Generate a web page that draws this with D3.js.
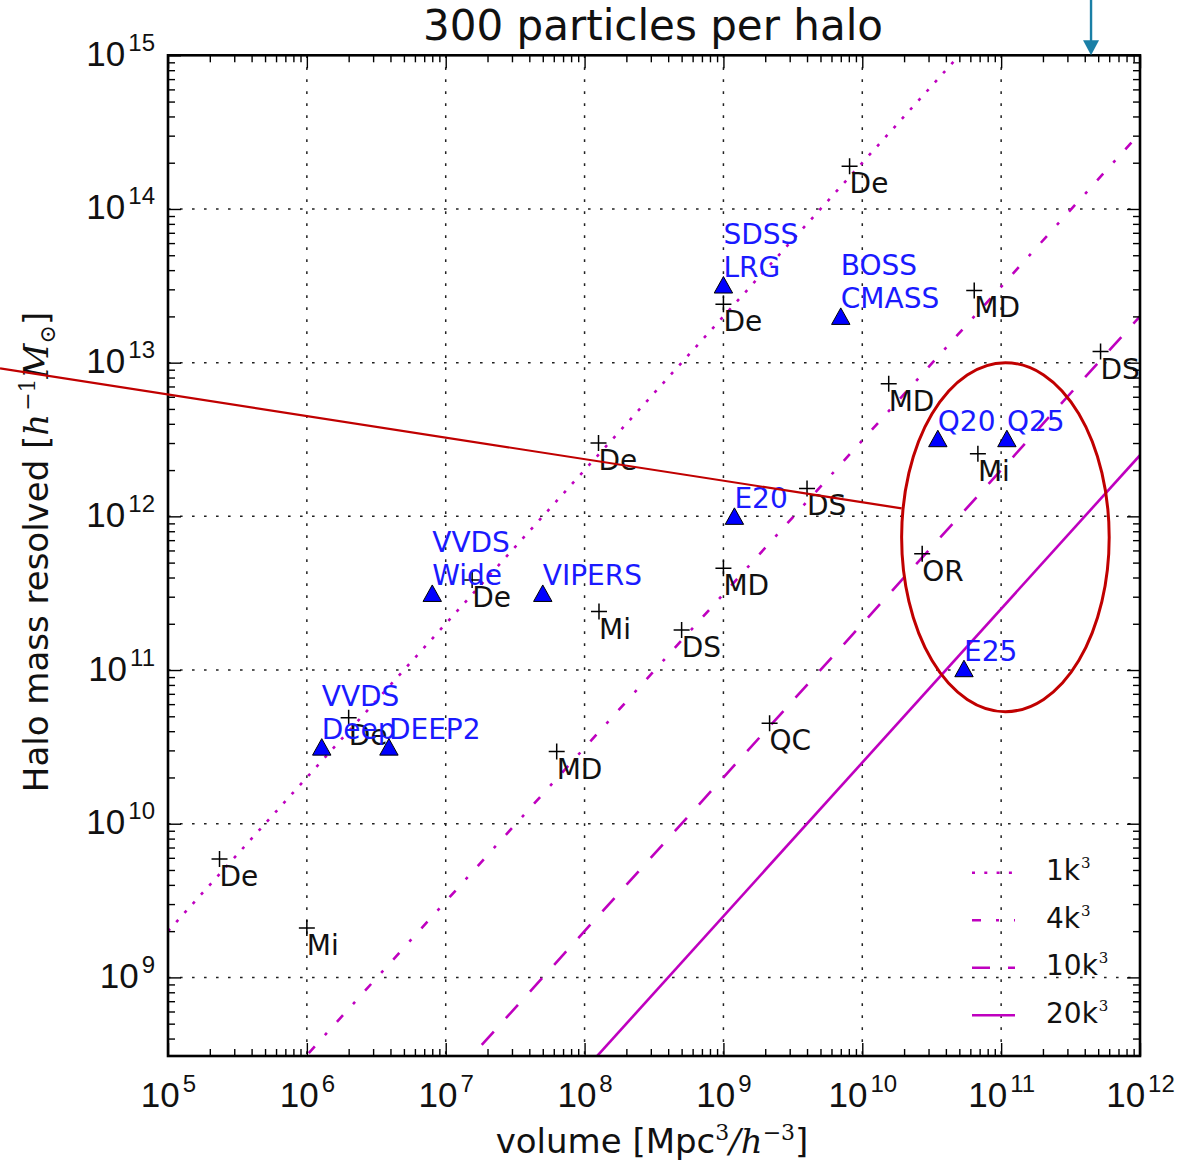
<!DOCTYPE html>
<html>
<head>
<meta charset="utf-8">
<script src="https://cdn.jsdelivr.net/npm/d3@7"></script>
<style>
  body { margin: 0; background: #fff; }
  svg { font-family: "DejaVu Sans", sans-serif; }
</style>
</head>
<body>
<script>
// simulations (black +)
var simVolume = [8.1e9, 1.0e9, 6.4e10, 5.2e11, 1.55e10, 1.26e8, 6.8e10, 4.0e9, 2.7e10, 1.0e9,
                 1.27e8, 5.0e8, 1.55e7, 2.15e9, 6.3e7, 2.0e6, 2.35e5, 1.0e6];
var simMass   = [1.9e14, 2.4e13, 2.95e13, 1.18e13, 7.3e12, 3.0e12, 2.55e12, 1.52e12, 5.7e11, 4.6e11,
                 2.4e11, 1.82e11, 3.85e11, 4.5e10, 2.95e10, 4.9e10, 5.9e9, 2.1e9];
var simLabel  = ["De", "De", "MD", "DS", "MD", "De", "Mi", "DS", "OR", "MD",
                 "Mi", "DS", "De", "QC", "MD", "De", "De", "Mi"];

// surveys (blue triangles)
var surveyVolume = [1.0e9, 7.0e9, 3.5e10, 1.1e11, 1.2e9, 5.4e10, 8.0e6, 5.0e7, 1.28e6, 3.9e6];
var surveyMass   = [3.2e13, 2.0e13, 3.2e12, 3.2e12, 1.0e12, 1.02e11, 3.15e11, 3.15e11, 3.15e10, 3.15e10];
var surveyLabel  = ["SDSS\nLRG", "BOSS\nCMASS", "Q20", "Q25", "E20", "E25", "VVDS\nWide", "VIPERS", "VVDS\nDeep", "DEEP2"];

// resolution limits: [volume, mass] at both ends of the x range
var limitNames = ["1k", "4k", "10k", "20k"];
var limitEnds  = [
  [[1e5, 2.0e9], [1e12, 2.0e16]],
  [[1e5, 3.12e7], [1e12, 3.12e14]],
  [[1e5, 2.0e6], [1e12, 2.0e13]],
  [[1e5, 2.5e5], [1e12, 2.5e12]]
];
var limitDash = ["3,9.3", "9,15,3,15", "18,18", null];

var xTicks = [1e5, 1e6, 1e7, 1e8, 1e9, 1e10, 1e11, 1e12];
var yTicks = [1e9, 1e10, 1e11, 1e12, 1e13, 1e14, 1e15];

// hand-drawn highlight on top of the figure
var ringVolume = [1.92e10, 6.0e11];
var ringMass = [5.36e10, 1.0e13];
var pointerEnds = [[6.17e3, 9.18e12], [1.92e10, 1.127e12]];
var arrowVolume = 4.44e11;

var W = 1192, H = 1167;
var pL = 168, pR = 1140, pT = 55.3, pB = 1056;
var magenta = "#bf00bf";

var svg = d3.select("body").append("svg")
  .attr("width", W).attr("height", H);

var x = d3.scaleLog().domain([1e5, 1e12]).range([pL, pR]);
var y = d3.scaleLog().domain([3.08e8, 1e15]).range([pB, pT]);

function minors(lo, hi) {
  var out = [];
  for (var k = Math.floor(Math.log10(lo)); k <= Math.ceil(Math.log10(hi)); k++) {
    for (var m = 2; m <= 9; m++) {
      var v = m * Math.pow(10, k);
      if (v > lo && v < hi) out.push(v);
    }
  }
  return out;
}

svg.append("defs").append("clipPath").attr("id", "plot")
  .append("rect").attr("x", pL).attr("y", pT)
  .attr("width", pR - pL).attr("height", pB - pT);

// grid
var grid = svg.append("g").attr("stroke", "#222").attr("stroke-width", 1.5)
  .attr("stroke-dasharray", "2.6,9.4");
xTicks.slice(1, -1).forEach(function(t) {
  grid.append("line").attr("x1", x(t)).attr("x2", x(t)).attr("y1", pT).attr("y2", pB);
});
yTicks.slice(0, -1).forEach(function(t) {
  grid.append("line").attr("y1", y(t)).attr("y2", y(t)).attr("x1", pL).attr("x2", pR);
});

// resolution lines
var line = d3.line().x(function(d) { return x(d[0]); }).y(function(d) { return y(d[1]); });
var lines = svg.append("g").attr("clip-path", "url(#plot)");
limitEnds.forEach(function(ends, i) {
  lines.append("path").attr("d", line(ends))
    .attr("fill", "none").attr("stroke", magenta).attr("stroke-width", 2.6)
    .attr("stroke-dasharray", limitDash[i]);
});

// simulations
var sims = svg.append("g");
simVolume.forEach(function(v, i) {
  var px = x(v), py = y(simMass[i]);
  sims.append("path").attr("d", "M" + (px - 8) + "," + py + "H" + (px + 8) + "M" + px + "," + (py - 8) + "V" + (py + 8))
    .attr("stroke", "#000").attr("stroke-width", 1.5);
  sims.append("text").attr("x", px).attr("y", py + 27)
    .attr("font-size", 28).attr("fill", "#111").text(simLabel[i]);
});

// surveys
var surveys = svg.append("g");
surveyVolume.forEach(function(v, i) {
  var px = x(v), py = y(surveyMass[i]);
  surveys.append("path")
    .attr("d", "M" + px + "," + (py - 8.5) + "L" + (px + 9.2) + "," + (py + 8) + "L" + (px - 9.2) + "," + (py + 8) + "Z")
    .attr("fill", "#0000ff").attr("stroke", "#000").attr("stroke-width", 1);
  var parts = surveyLabel[i].split("\n");
  parts.forEach(function(s, j) {
    surveys.append("text").attr("x", px).attr("y", py - 8 - (parts.length - 1 - j) * 33.5)
      .attr("font-size", 28).attr("fill", "#1a1aff").text(s);
  });
});

// axes: ticks point inward on all four sides
function tickLabel(sel) {
  sel.selectAll(".tick text").each(function(d) {
    var t = d3.select(this);
    t.text(null);
    t.append("tspan").text("10");
    t.append("tspan").attr("dy", -15).attr("dx", 3).attr("font-size", 24)
      .text(Math.round(Math.log10(d)));
  });
}

var xMinor = minors(1e5, 1e12), yMinor = minors(3.08e8, 1e15);

var ax = svg.append("g").attr("font-family", "DejaVu Sans");

ax.append("g").attr("transform", "translate(0," + pB + ")")
  .call(d3.axisBottom(x).tickValues(xMinor).tickSize(-7).tickFormat(""));
ax.append("g").attr("transform", "translate(0," + pT + ")")
  .call(d3.axisTop(x).tickValues(xMinor).tickSize(-7).tickFormat(""));
ax.append("g").attr("transform", "translate(" + pL + ",0)")
  .call(d3.axisLeft(y).tickValues(yMinor).tickSize(-7).tickFormat(""));
ax.append("g").attr("transform", "translate(" + pR + ",0)")
  .call(d3.axisRight(y).tickValues(yMinor).tickSize(-7).tickFormat(""));

ax.append("g").attr("transform", "translate(0," + pT + ")")
  .call(d3.axisTop(x).tickValues(xTicks).tickSize(-13).tickFormat(""));
ax.append("g").attr("transform", "translate(" + pR + ",0)")
  .call(d3.axisRight(y).tickValues(yTicks).tickSize(-13).tickFormat(""));

ax.append("g").attr("transform", "translate(0," + pB + ")")
  .call(d3.axisBottom(x).tickValues(xTicks).tickSize(-13).tickPadding(18).tickFormat(function() { return ""; }))
  .call(function(g) { g.selectAll(".tick text").attr("font-size", 35).attr("dy", "0.93em").attr("fill", "#111"); })
  .call(tickLabel);
ax.append("g").attr("transform", "translate(" + pL + ",0)")
  .call(d3.axisLeft(y).tickValues(yTicks).tickSize(-13).tickPadding(13).tickFormat(function() { return ""; }))
  .call(function(g) { g.selectAll(".tick text").attr("font-size", 35).attr("dy", 10).attr("fill", "#111"); })
  .call(tickLabel);

ax.selectAll(".domain").remove();
ax.selectAll(".tick line").attr("stroke", "#000").attr("stroke-width", 1.4);

svg.append("rect").attr("x", pL).attr("y", pT)
  .attr("width", pR - pL).attr("height", pB - pT)
  .attr("fill", "none").attr("stroke", "#000").attr("stroke-width", 2.6);

// title and axis labels
svg.append("text").attr("x", (pL + pR) / 2 - 1).attr("y", 40)
  .attr("text-anchor", "middle").attr("font-size", 42).attr("fill", "#111")
  .text("300 particles per halo");

var xl = svg.append("text").attr("x", (pL + pR) / 2 - 2).attr("y", 1153)
  .attr("text-anchor", "middle").attr("font-size", 34).attr("fill", "#111");
xl.append("tspan").text("volume [Mpc");
xl.append("tspan").attr("dy", -13).attr("font-size", 22).attr("font-family", "DejaVu Serif").text("3");
xl.append("tspan").attr("dy", 13).attr("font-family", "DejaVu Serif").attr("font-style", "italic").text("/h");
xl.append("tspan").attr("dy", -13).attr("font-size", 22).attr("font-family", "DejaVu Serif").text("\u22123");
xl.append("tspan").attr("dy", 13).text("]");

var yl = svg.append("text").attr("transform", "translate(48,552) rotate(-90)")
  .attr("text-anchor", "middle").attr("font-size", 34).attr("fill", "#111");
yl.append("tspan").text("Halo mass resolved [");
yl.append("tspan").attr("font-family", "DejaVu Serif").attr("font-style", "italic").text("h");
yl.append("tspan").attr("dy", -13).attr("dx", 3).attr("font-size", 22).attr("font-family", "DejaVu Serif").text("\u22121");
yl.append("tspan").attr("dy", 13).attr("font-family", "DejaVu Serif").attr("font-style", "italic").text("M");
yl.append("tspan").attr("dy", 7).attr("font-size", 22).attr("font-family", "DejaVu Serif").text("\u2299");
yl.append("tspan").attr("dy", -7).text("]");

// legend
var leg = svg.append("g");
limitNames.forEach(function(name, i) {
  var ly = 872.7 + i * 47.5;
  leg.append("line").attr("x1", 972).attr("x2", 1015).attr("y1", ly).attr("y2", ly)
    .attr("stroke", magenta).attr("stroke-width", 2.6).attr("stroke-dasharray", limitDash[i]);
  var t = leg.append("text").attr("x", 1046).attr("y", ly + 7.5).attr("font-size", 28).attr("fill", "#111");
  t.append("tspan").text(name);
  t.append("tspan").attr("dy", -12).attr("dx", 1).attr("font-size", 15).attr("font-family", "DejaVu Serif").text("3");
});

// highlight overlay
var cx = (x(ringVolume[0]) + x(ringVolume[1])) / 2, cy = (y(ringMass[0]) + y(ringMass[1])) / 2;
svg.append("ellipse").attr("cx", cx).attr("cy", cy)
  .attr("rx", (x(ringVolume[1]) - x(ringVolume[0])) / 2)
  .attr("ry", (y(ringMass[0]) - y(ringMass[1])) / 2)
  .attr("fill", "none").attr("stroke", "#c00000").attr("stroke-width", 3);
svg.append("path").attr("d", line(pointerEnds))
  .attr("fill", "none").attr("stroke", "#c00000").attr("stroke-width", 2.2);

var ax0 = x(arrowVolume);
svg.append("line").attr("x1", ax0).attr("x2", ax0).attr("y1", 0).attr("y2", pT - 10)
  .attr("stroke", "#1a7fa6").attr("stroke-width", 2.4);
svg.append("path").attr("d", "M" + (ax0 - 8) + "," + (pT - 15) + "L" + (ax0 + 8) + "," + (pT - 15) + "L" + ax0 + "," + pT + "Z")
  .attr("fill", "#1a7fa6");
</script>
</body>
</html>
